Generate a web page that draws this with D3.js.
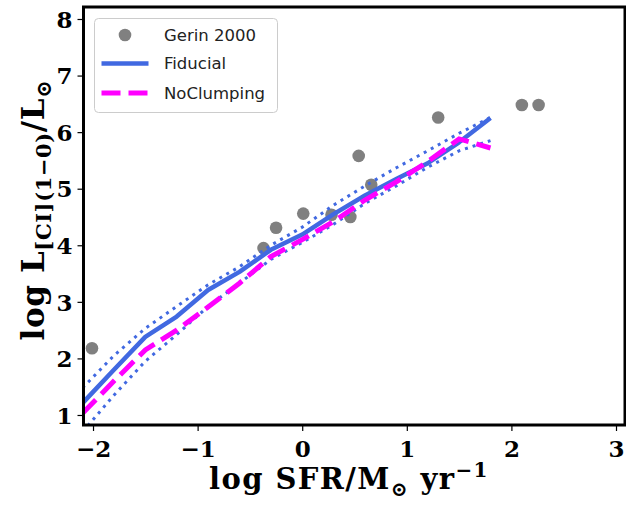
<!DOCTYPE html>
<html><head><meta charset="utf-8">
<script src="https://cdn.jsdelivr.net/npm/d3@7"></script>
<style>body{margin:0;background:#fff}svg{display:block}</style>
</head><body>
<svg id="c" width="626" height="510"></svg>
<script>
// ---- data ----
const gerinX = [-2.01, -0.37, -0.25, 0.01, 0.28, 0.46, 0.54, 0.66, 1.30, 2.10, 2.26];
const gerinY = [2.18, 3.95, 4.31, 4.56, 4.54, 4.50, 5.58, 5.07, 6.26, 6.48, 6.48];
const modelX = [-2.1, -1.8, -1.5, -1.2, -0.9, -0.6, -0.3, 0.0, 0.3, 0.6, 0.9, 1.2, 1.5, 1.8];
const fiducial = [1.21, 1.80, 2.38, 2.74, 3.21, 3.53, 3.92, 4.19, 4.55, 4.88, 5.17, 5.45, 5.82, 6.25];
const fidUpper = [1.48, 2.05, 2.53, 2.92, 3.30, 3.62, 4.00, 4.32, 4.71, 5.05, 5.37, 5.67, 5.98, 6.26];
const fidLower = [0.70, 1.35, 1.95, 2.42, 2.92, 3.33, 3.75, 4.05, 4.37, 4.74, 5.05, 5.38, 5.67, 5.85];
const noClumping = [1.03, 1.60, 2.15, 2.50, 2.91, 3.33, 3.80, 4.10, 4.42, 4.80, 5.12, 5.48, 5.88, 5.72];
const xTicks = [-2, -1, 0, 1, 2, 3];
const yTicks = [1, 2, 3, 4, 5, 6, 7, 8];
const legendLabels = ["Gerin 2000", "Fiducial", "NoClumping"];

// ---- layout ----
const L = 83.5, R = 625, T = 7, B = 425;
const svg = d3.select("#c");
const x = d3.scaleLinear().domain([-2.091, 3.086]).range([L, R]);
const y = d3.scaleLinear().domain([0.823, 8.212]).range([B, T]);
const serif = "'DejaVu Serif', serif";
const sans = "'DejaVu Sans', sans-serif";

svg.append("defs").append("clipPath").attr("id","clip")
  .append("rect").attr("x",L).attr("y",T).attr("width",R-L).attr("height",B-T);

const plot = svg.append("g").attr("clip-path","url(#clip)");

// scatter
plot.selectAll("circle.g").data(gerinX.map((d,i)=>[d,gerinY[i]])).enter()
  .append("circle").attr("cx",d=>x(d[0])).attr("cy",d=>y(d[1])).attr("r",6.3).attr("fill","#808080");

const line = d3.line().x(d=>x(d[0])).y(d=>y(d[1]));
const pts = arr => modelX.map((v,i)=>[v,arr[i]]);

plot.append("path").attr("d",line(pts(fiducial))).attr("fill","none")
  .attr("stroke","#4169E1").attr("stroke-width",4.5).attr("stroke-linejoin","round");
[fidUpper, fidLower].forEach(a=>{
  plot.append("path").attr("d",line(pts(a))).attr("fill","none")
    .attr("stroke","#4169E1").attr("stroke-width",3).attr("stroke-dasharray","3,5");
});
plot.append("path").attr("d",line(pts(noClumping))).attr("fill","none")
  .attr("stroke","#FF00FF").attr("stroke-width",5).attr("stroke-dasharray","19,8");

// axes
const xAxis = d3.axisBottom(x).tickValues(xTicks).tickSize(6).tickPadding(9)
  .tickFormat(d=>d<0?"\u2212"+Math.abs(d):d);
const gx = svg.append("g").attr("transform",`translate(0,${B})`).call(xAxis);
const yAxis = d3.axisLeft(y).tickValues(yTicks).tickSize(6).tickPadding(5);
const gy = svg.append("g").attr("transform",`translate(${L},0)`).call(yAxis);
[gx,gy].forEach(g=>{
  g.select(".domain").remove();
  g.selectAll(".tick line").attr("stroke","#000").attr("stroke-width",1.2);
  g.selectAll(".tick text").attr("font-family",serif).attr("font-weight","bold")
    .attr("font-size",23).attr("fill","#000");
});
gx.selectAll(".tick text").attr("dy","0.72em");
gy.selectAll(".tick text").attr("dy","0.36em");

// spines
svg.append("rect").attr("x",L).attr("y",T).attr("width",R-L).attr("height",B-T)
  .attr("fill","none").attr("stroke","#000").attr("stroke-width",3);

// x label
const xl = svg.append("text").attr("x",349).attr("y",489).attr("text-anchor","middle")
  .attr("font-family",serif).attr("font-weight","bold").attr("font-size",29)
  .attr("letter-spacing",1.4).attr("fill","#000");
xl.append("tspan").text("log SFR/M");
xl.append("tspan").attr("font-size",20).attr("dy",7).text("\u2299");
xl.append("tspan").attr("dy",-7).text(" yr");
xl.append("tspan").attr("font-size",20).attr("dy",-12).text("\u22121");

// y label
const yl = svg.append("text").attr("transform","translate(44,210) rotate(-90)").attr("text-anchor","middle")
  .attr("font-family",serif).attr("font-weight","bold").attr("font-size",31)
  .attr("letter-spacing",0.6).attr("fill","#000");
yl.append("tspan").text("log L");
yl.append("tspan").attr("font-size",21).attr("dy",7).text("[CI](1\u22120)");
yl.append("tspan").attr("dy",-7).text("/L");
yl.append("tspan").attr("font-size",21).attr("dy",7).text("\u2299");

// legend
const lg = svg.append("g");
lg.append("rect").attr("x",94.5).attr("y",18.5).attr("width",183).attr("height",94).attr("rx",4)
  .attr("fill","#fff").attr("fill-opacity",0.8).attr("stroke","#cccccc").attr("stroke-width",1);
const rowsY = [35, 63.5, 93];
lg.append("circle").attr("cx",125).attr("cy",rowsY[0]).attr("r",6.3).attr("fill","#808080");
lg.append("line").attr("x1",101.5).attr("x2",148.5).attr("y1",rowsY[1]).attr("y2",rowsY[1])
  .attr("stroke","#4169E1").attr("stroke-width",4.5);
lg.append("line").attr("x1",101.5).attr("x2",148.5).attr("y1",rowsY[2]).attr("y2",rowsY[2])
  .attr("stroke","#FF00FF").attr("stroke-width",5).attr("stroke-dasharray","19,8");
legendLabels.forEach((t,i)=>{
  lg.append("text").attr("x",164).attr("y",rowsY[i]).attr("dy","0.36em")
    .attr("font-family",sans).attr("font-size",16.5).attr("fill","#222").text(t);
});
</script>
</body></html>
